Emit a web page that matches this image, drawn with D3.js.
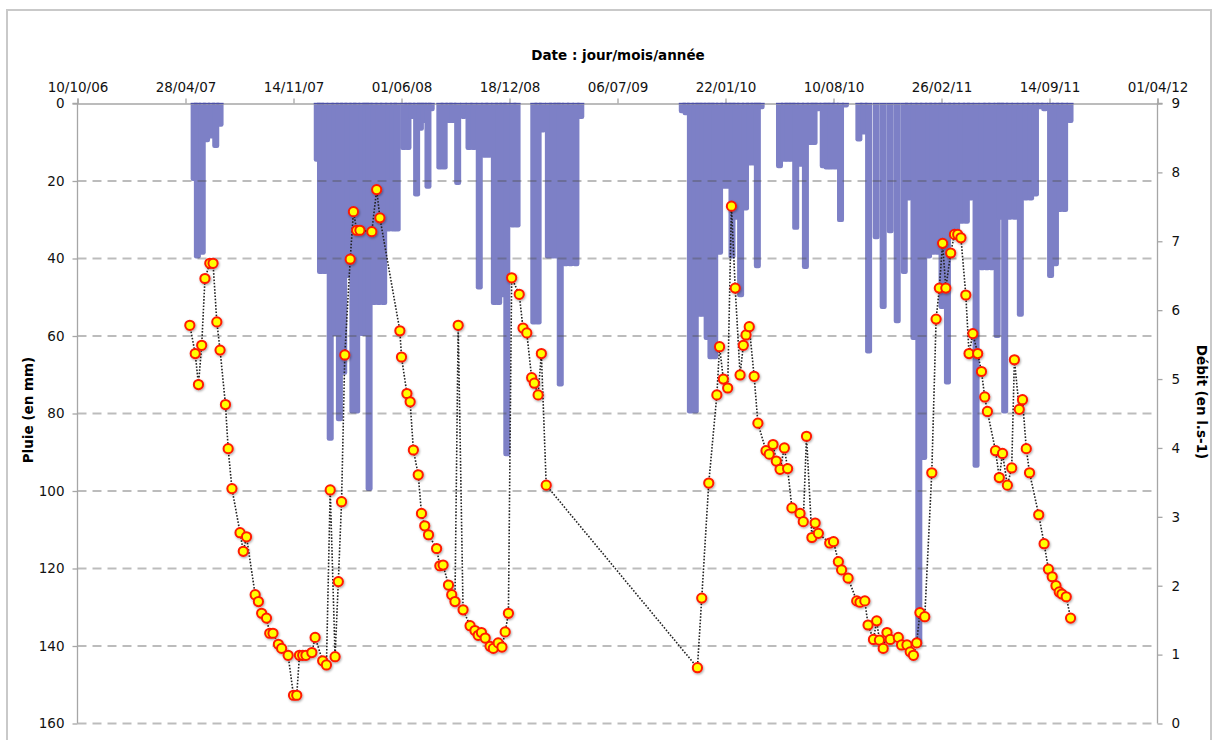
<!DOCTYPE html>
<html><head><meta charset="utf-8">
<script src="https://cdn.jsdelivr.net/npm/d3@7"></script>
<style>
html,body{margin:0;padding:0;background:#fff;}
svg text{font-family:"DejaVu Sans","Lucida Grande",sans-serif;}
</style></head>
<body><svg id="c" width="1214" height="740"></svg>
<script>
// ---------- DATA ----------
const xTickLabels = ["10/10/06","28/04/07","14/11/07","01/06/08","18/12/08","06/07/09","22/01/10","10/08/10","26/02/11","14/09/11","01/04/12"];
const rainTicks = [0,20,40,60,80,100,120,140,160];
const flowTicks = [0,1,2,3,4,5,6,7,8,9];

const rainDates = [
"2007-05-14","2007-05-20","2007-05-29","2007-06-06","2007-06-15","2007-06-23","2007-07-01",
"2007-12-28","2008-01-03","2008-01-11","2008-01-21","2008-01-30","2008-02-07","2008-02-15","2008-02-23",
"2008-03-03","2008-03-10","2008-03-20","2008-03-27","2008-04-02","2008-04-11","2008-04-20","2008-04-29",
"2008-05-08","2008-05-17","2008-05-24","2008-06-05","2008-06-13","2008-06-20","2008-06-29","2008-07-06",
"2008-07-12","2008-07-20","2008-07-26","2008-08-11","2008-08-19","2008-08-28","2008-09-04","2008-09-13",
"2008-09-24","2008-10-04","2008-10-13","2008-10-23","2008-11-02","2008-11-10","2008-11-20","2008-11-28",
"2008-12-06","2008-12-13","2008-12-24","2009-01-01","2009-02-01","2009-02-09","2009-02-17","2009-02-28",
"2009-03-08","2009-03-16","2009-03-22","2009-04-01","2009-04-10","2009-04-20","2009-04-29",
"2009-11-03","2009-11-10","2009-11-18","2009-11-27","2009-12-04","2009-12-11","2009-12-19","2009-12-26",
"2010-01-02","2010-01-11","2010-01-19","2010-01-27","2010-02-03","2010-02-10","2010-02-19","2010-02-28",
"2010-03-08","2010-03-16","2010-03-22","2010-03-29","2010-05-02","2010-05-11","2010-05-18","2010-05-25",
"2010-06-01","2010-06-10","2010-06-19","2010-06-28","2010-07-05","2010-07-12","2010-07-22","2010-07-29",
"2010-08-05","2010-08-13","2010-08-23","2010-09-01","2010-09-26","2010-10-05","2010-10-14","2010-10-28",
"2010-11-10","2010-11-23","2010-12-06","2010-12-19","2010-12-27","2011-01-06","2011-01-15","2011-01-24",
"2011-02-02","2011-02-10","2011-02-19","2011-02-27","2011-03-09","2011-03-17","2011-03-26","2011-04-04",
"2011-04-13","2011-04-21","2011-05-01","2011-05-12","2011-05-21","2011-05-30","2011-06-09","2011-06-15",
"2011-06-23","2011-07-02","2011-07-12","2011-07-22","2011-08-01","2011-08-10","2011-08-19","2011-08-27",
"2011-09-05","2011-09-16","2011-09-25","2011-10-03","2011-10-12","2011-10-22"];
const rainMm = [
20,40,39,10,9,11.5,6,
15,44,44,87,60,82,70,45,
80,80,60,60,100,52,52,52,
33,33,33,12,12,4,24,7,
5,22,2,17,17,5,5,21,
4,12,12,48,14,14,52,52,
50,91,32,32,57,57,7.5,40,
40,40,73,42,42,42,4,
2.5,3,80,80,55,55,61,66,
66,39,22,22,40,30,50,27.6,
16,16,42.5,1.5,16.7,15,15,15,
32.6,16.3,42.7,10.7,10.7,2,16.7,17,
17,17,30.6,1,9.8,8,64.5,35,
53,33.5,56.7,44,25,61,140,92,
40,39,39,53,72.5,34,34,31,
31,25,94,43,43,43,60.5,30,
80,30,30,55,25,25,24,1.5,
2,45,42,28,28,5];

const flowDates = [
"2007-05-06","2007-05-16","2007-05-22","2007-05-28","2007-06-03","2007-06-12","2007-06-18","2007-06-25","2007-07-01","2007-07-11",
"2007-07-16","2007-07-23","2007-08-07","2007-08-13","2007-08-19","2007-09-04","2007-09-10","2007-09-16","2007-09-25","2007-10-01",
"2007-10-07","2007-10-17","2007-10-23","2007-11-04","2007-11-14","2007-11-20","2007-11-25","2007-12-01","2007-12-07","2007-12-18",
"2007-12-24","2008-01-07","2008-01-14","2008-01-21","2008-01-30","2008-02-05","2008-02-11","2008-02-17","2008-02-27","2008-03-04",
"2008-03-10","2008-03-16","2008-04-07","2008-04-16","2008-04-22","2008-05-29","2008-06-01","2008-06-11","2008-06-17","2008-06-23",
"2008-07-02","2008-07-08","2008-07-14","2008-07-21","2008-08-05","2008-08-11","2008-08-17","2008-08-27","2008-09-02","2008-09-08",
"2008-09-14","2008-09-23","2008-10-06","2008-10-15","2008-10-21","2008-10-27","2008-11-03","2008-11-12","2008-11-18","2008-11-27",
"2008-12-04","2008-12-10","2008-12-16","2008-12-22","2009-01-05","2009-01-12","2009-01-19","2009-01-28","2009-02-02","2009-02-09",
"2009-02-15","2009-02-24","2009-12-01","2009-12-09","2009-12-22","2010-01-06","2010-01-11","2010-01-18","2010-01-26","2010-02-02",
"2010-02-09","2010-02-18","2010-02-24","2010-03-01","2010-03-07","2010-03-16","2010-03-23","2010-04-07","2010-04-13","2010-04-20",
"2010-04-26","2010-05-03","2010-05-11","2010-05-17","2010-05-25","2010-06-09","2010-06-15","2010-06-21","2010-07-01","2010-07-07",
"2010-07-13","2010-08-03","2010-08-10","2010-08-19","2010-08-25","2010-09-06","2010-09-22","2010-09-28","2010-10-07","2010-10-13",
"2010-10-23","2010-10-29","2010-11-03","2010-11-10","2010-11-17","2010-11-23","2010-12-08","2010-12-14","2010-12-24","2010-12-30",
"2011-01-05","2011-01-11","2011-01-17","2011-01-26","2011-02-08","2011-02-16","2011-02-22","2011-02-28","2011-03-06","2011-03-15",
"2011-03-22","2011-03-28","2011-04-03","2011-04-12","2011-04-18","2011-04-25","2011-05-04","2011-05-11","2011-05-17","2011-05-22",
"2011-06-06","2011-06-13","2011-06-19","2011-06-28","2011-07-06","2011-07-11","2011-07-20","2011-07-26","2011-08-02","2011-08-08",
"2011-08-25","2011-09-04","2011-09-12","2011-09-19","2011-09-26","2011-10-02","2011-10-07","2011-10-15","2011-10-23"];
const flowValues = [
5.78,5.37,4.92,5.49,6.46,6.68,6.68,5.83,5.42,4.63,
3.99,3.41,2.77,2.50,2.71,1.87,1.77,1.60,1.53,1.31,
1.31,1.15,1.09,0.99,0.41,0.41,0.99,0.99,0.99,1.03,
1.25,0.91,0.85,3.39,0.97,2.06,3.22,5.35,6.74,7.43,
7.16,7.16,7.14,7.75,7.34,5.70,5.32,4.79,4.67,3.97,
3.61,3.05,2.87,2.74,2.54,2.29,2.30,2.01,1.87,1.77,
5.78,1.65,1.42,1.35,1.28,1.32,1.24,1.12,1.09,1.17,
1.11,1.33,1.60,6.47,6.23,5.74,5.67,5.02,4.94,4.77,
5.37,3.46,0.81,1.82,3.49,4.77,5.47,5.00,4.87,7.51,
6.32,5.06,5.49,5.64,5.76,5.04,4.36,3.96,3.91,4.05,
3.81,3.69,4.00,3.70,3.13,3.05,2.93,4.17,2.70,2.91,
2.76,2.62,2.64,2.35,2.23,2.11,1.78,1.76,1.78,1.43,
1.22,1.49,1.21,1.09,1.32,1.22,1.25,1.14,1.14,1.04,
0.99,1.17,1.61,1.55,3.64,5.87,6.32,6.97,6.32,6.83,
7.10,7.10,7.05,6.22,5.37,5.66,5.37,5.11,4.74,4.53,
3.96,3.57,3.92,3.46,3.71,5.28,4.56,4.70,3.99,3.64,
3.03,2.61,2.24,2.13,2.00,1.91,1.88,1.84,1.53];

// ---------- CHART ----------
const parseISO = d3.timeParse("%Y-%m-%d");
const parseFR = d3.timeParse("%d/%m/%y");
const fmtFR = d3.timeFormat("%d/%m/%y");
const tickDates = xTickLabels.map(parseFR);

const L = 77.5, R = 1157.5, T = 103.5, B = 723.5;
const svg = d3.select("#c");

const x = d3.scaleTime().domain([tickDates[0], tickDates[tickDates.length-1]]).range([L, R]);
const yRain = d3.scaleLinear().domain([0,160]).range([T, B]);
const yFlow = d3.scaleLinear().domain([0,9]).range([B, T]);

// outer frame
svg.append("rect").attr("x",7).attr("y",10).attr("width",1204).attr("height",740)
  .attr("fill","none").attr("stroke","#c9c9c9").attr("stroke-width",2);

// rain bars
const rain = rainDates.map((d,i)=>({date:parseISO(d), mm:rainMm[i]}));
const barW = x(d3.timeDay.offset(tickDates[0],13)) - x(tickDates[0]);
const gRain = svg.append("g");
gRain.selectAll("rect").data(rain).join("rect")
  .attr("x", d => x(d.date) - barW/2)
  .attr("y", yRain(0) - 3)
  .attr("width", barW)
  .attr("height", d => yRain(d.mm) - yRain(0) + 3)
  .attr("rx", 2.2)
  .attr("fill", "#7d80c6");

// gridlines (dashed, on top of bars)
svg.append("g").selectAll("line").data(rainTicks.filter(v=>v>0)).join("line")
  .attr("x1", L).attr("x2", R)
  .attr("y1", d=>yRain(d)).attr("y2", d=>yRain(d))
  .attr("stroke","rgba(80,80,80,0.38)").attr("stroke-width",2.2)
  .attr("stroke-dasharray","9,6");

// white mask above plot top so bars begin at axis
svg.append("rect").attr("x",L).attr("y",T-6).attr("width",R-L).attr("height",6).attr("fill","#fff");

// axes
const axColor = "#a6a6a6";
const gTop = svg.append("g").attr("transform",`translate(0,${T})`)
  .call(d3.axisTop(x).tickValues(tickDates).tickFormat(fmtFR).tickSize(5).tickPadding(7));
const gLeft = svg.append("g").attr("transform",`translate(${L},0)`)
  .call(d3.axisLeft(yRain).tickValues(rainTicks).tickSize(5).tickPadding(8));
const gRight = svg.append("g").attr("transform",`translate(${R},0)`)
  .call(d3.axisRight(yFlow).tickValues(flowTicks).tickSize(5).tickPadding(9));
[gTop,gLeft,gRight].forEach(g=>{
  g.select(".domain").attr("stroke",axColor).attr("stroke-width",1.3);
  g.selectAll(".tick line").attr("stroke",axColor).attr("stroke-width",1.3);
  g.selectAll(".tick text").attr("fill","#111").style("font-size","13.5px")
    .style("font-family","'DejaVu Sans',sans-serif");
});
gLeft.select(".domain").attr("d", `M-5,${T}H0V${B}`);
gRight.select(".domain").attr("d", `M5,${T}H0V${B}`);

// dark top edge of the rain columns along the axis
svg.append("g").selectAll("line").data(rain).join("line")
  .attr("x1", d => x(d.date) - barW/2).attr("x2", d => x(d.date) + barW/2)
  .attr("y1", T).attr("y2", T)
  .attr("stroke","#4c50a6").attr("stroke-width",1.4);

// titles
svg.append("text").attr("x",618).attr("y",60).attr("text-anchor","middle")
  .style("font-size","13.5px").style("font-weight","bold").text("Date : jour/mois/année");
svg.append("text").attr("transform","translate(33,410) rotate(-90)").attr("text-anchor","middle")
  .style("font-size","13.5px").style("font-weight","bold").text("Pluie  (en mm)");
svg.append("text").attr("transform","translate(1197,402) rotate(90)").attr("text-anchor","middle")
  .style("font-size","13.5px").style("font-weight","bold").text("Débit  (en l.s-1)");

// flow line + points
const flow = flowDates.map((d,i)=>({date:parseISO(d), q:flowValues[i]}));
const line = d3.line().x(d=>x(d.date)).y(d=>yFlow(d.q));
svg.append("path").datum(flow).attr("d", line).attr("fill","none")
  .attr("stroke","#222").attr("stroke-width",1.6).attr("stroke-dasharray","1.6,1.6");

const defs = svg.append("defs");
const f = defs.append("filter").attr("id","sh").attr("x","-50%").attr("y","-50%").attr("width","200%").attr("height","200%");
f.append("feDropShadow").attr("dx",0.8).attr("dy",1.2).attr("stdDeviation",0.9).attr("flood-color","#000").attr("flood-opacity",0.35);

svg.append("g").attr("filter","url(#sh)").selectAll("circle").data(flow).join("circle")
  .attr("cx", d=>x(d.date)).attr("cy", d=>yFlow(d.q)).attr("r",4.6)
  .attr("fill","#ffff00").attr("stroke","#ff1a00").attr("stroke-width",2);
</script></body></html>
